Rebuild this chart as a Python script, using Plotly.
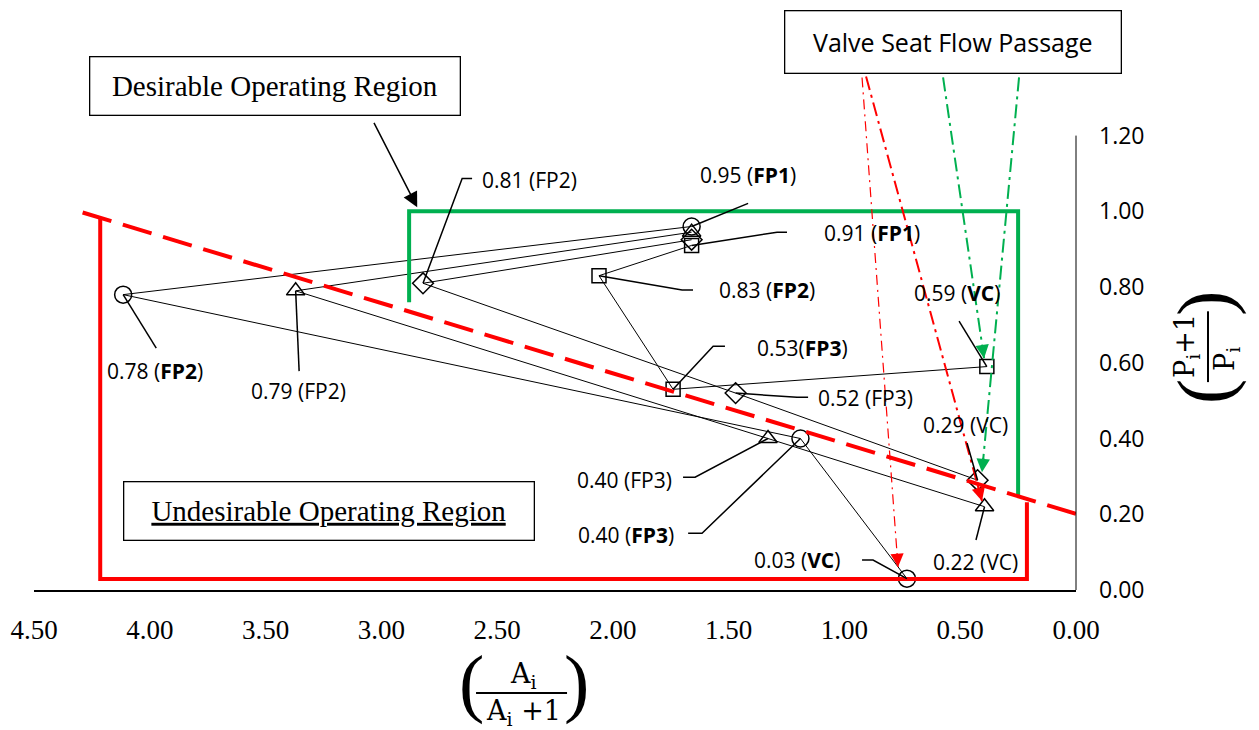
import plotly.graph_objects as go

# ---------------- data ----------------
stages = ["FP1", "FP2", "FP3", "VC"]
circle_x = [1.66, 4.115, 1.19, 0.73]
circle_y = [0.96, 0.78, 0.40, 0.03]
triangle_x = [1.66, 3.37, 1.33, 0.395]
triangle_y = [0.945, 0.79, 0.40, 0.22]
diamond_x = [1.66, 2.82, 1.47, 0.425]
diamond_y = [0.925, 0.81, 0.52, 0.29]
square_x = [1.66, 2.06, 1.74, 0.385]
square_y = [0.91, 0.83, 0.53, 0.59]

x_tick_vals = [4.5, 4.0, 3.5, 3.0, 2.5, 2.0, 1.5, 1.0, 0.5, 0.0]
y_tick_vals = [0.0, 0.2, 0.4, 0.6, 0.8, 1.0, 1.2]

# region boundaries
threshold_x = [4.29, -0.017]
threshold_y = [0.997, 0.198]
red_region_x = [4.214, 4.214, 0.212, 0.212]
red_region_y = [0.98, 0.029, 0.029, 0.232]
green_region_x = [2.88, 2.88, 0.25, 0.25]
green_region_y = [0.76, 1.0, 1.0, 0.25]

# ---------------- figure ----------------
FONT_SANS = "Open Sans"
FONT_SERIF = "Liberation Serif"
FONT_MATH = "DejaVu Serif"
RED = "#FF0000"
GREEN = "#00B050"

series = [
    ("circle", circle_x, circle_y, "circle-open", 17),
    ("triangle", triangle_x, triangle_y, "triangle-up-open", 16),
    ("diamond", diamond_x, diamond_y, "diamond-open", 16),
    ("square", square_x, square_y, "square-open", 14),
]
lookup = {s[0]: (s[1], s[2]) for s in series}

fig = go.Figure()
for name, xs, ys, sym, size in series:
    fig.add_trace(go.Scatter(
        x=xs, y=ys, mode="lines+markers", name=name,
        line=dict(color="black", width=1),
        marker=dict(symbol=sym, size=size, color="black",
                    line=dict(width=1.5, color="black")),
        cliponaxis=False, hoverinfo="skip", showlegend=False))

# region boundaries
fig.add_trace(go.Scatter(x=red_region_x, y=red_region_y, mode="lines",
                         line=dict(color=RED, width=4), hoverinfo="skip", showlegend=False))
fig.add_trace(go.Scatter(x=green_region_x, y=green_region_y, mode="lines",
                         line=dict(color=GREEN, width=4), hoverinfo="skip", showlegend=False))
fig.add_trace(go.Scatter(x=threshold_x, y=threshold_y, mode="lines",
                         line=dict(color=RED, width=4, dash="30px,12px"),
                         hoverinfo="skip", showlegend=False))

# valve seat flow passage arrows: (start, tip, color, width, dash, tail fraction, arrowsize)
valve_arrows = [
    ((0.924, 1.3536), (0.7686, 0.0607), RED, 1.2, "10px,5px,2px,5px", 0.03, 2.2),
    ((0.9067, 1.356), (0.406, 0.235), RED, 2, "14px,5px,3px,5px", 0.035, 1.35),
    ((0.574, 1.3536), (0.397, 0.612), GREEN, 2, "14px,5px,3px,5px", 0.05, 1.35),
    ((0.246, 1.3536), (0.406, 0.311), GREEN, 2, "14px,5px,3px,5px", 0.04, 1.35),
]
annotations = []
for (sx, sy), (tx, ty), col, w, dash, frac, asz in valve_arrows:
    fig.add_trace(go.Scatter(x=[sx, tx], y=[sy, ty], mode="lines",
                             line=dict(color=col, width=w, dash=dash),
                             hoverinfo="skip", showlegend=False))
    annotations.append(dict(
        x=tx, y=ty, xref="x", yref="y", text="",
        ax=tx + frac * (sx - tx), ay=ty + frac * (sy - ty), axref="x", ayref="y",
        showarrow=True, arrowhead=2, arrowsize=asz, arrowwidth=w, arrowcolor=col,
        standoff=0))

# data labels: (series, index, text, text position, leader waypoints)
labels = [
    ("circle", 1, "0.78 (<b>FP2</b>)", (3.977, 0.578), [(3.972, 0.6385)]),
    ("triangle", 1, "0.79 (FP2)", (3.359, 0.525), [(3.355, 0.578)]),
    ("diamond", 1, "0.81 (FP2)", (2.358, 1.082), [(2.651, 1.087), (2.608, 1.087)]),
    ("circle", 0, "0.95 (<b>FP1</b>)", (1.416, 1.095), [(1.416, 1.021)]),
    ("square", 0, "0.91 (<b>FP1</b>)", (0.881, 0.942), [(1.291, 0.945), (1.248, 0.945)]),
    ("square", 1, "0.83 (<b>FP2</b>)", (1.334, 0.792), [(1.701, 0.792), (1.654, 0.792)]),
    ("square", 2, "0.53(<b>FP3</b>)", (1.183, 0.6385), [(1.567, 0.644), (1.516, 0.644)]),
    ("diamond", 2, "0.52 (FP3)", (0.911, 0.507), [(1.205, 0.509), (1.157, 0.509)]),
    ("triangle", 2, "0.40 (FP3)", (1.952, 0.290), [(1.645, 0.298), (1.697, 0.298)]),
    ("circle", 2, "0.40 (<b>FP3</b>)", (1.943, 0.145), [(1.615, 0.150), (1.675, 0.150)]),
    ("circle", 3, "0.03 (<b>VC</b>)", (1.205, 0.079), [(0.8765, 0.079), (0.924, 0.079)]),
    ("triangle", 3, "0.22 (VC)", (0.436, 0.074), [(0.432, 0.132)]),
    ("diamond", 3, "0.29 (VC)", (0.479, 0.435), [(0.4706, 0.388)]),
    ("square", 3, "0.59 (<b>VC</b>)", (0.514, 0.784), [(0.505, 0.710)]),
]
for sname, idx, text, (lx, ly), pts in labels:
    xs, ys = lookup[sname]
    fig.add_trace(go.Scatter(x=[xs[idx]] + [p[0] for p in pts],
                             y=[ys[idx]] + [p[1] for p in pts], mode="lines",
                             line=dict(color="black", width=1.5),
                             hoverinfo="skip", showlegend=False))
    annotations.append(dict(x=lx, y=ly, xref="x", yref="y", text=text, showarrow=False,
                            xanchor="center", yanchor="middle",
                            font=dict(family=FONT_SANS, size=21, color="black")))

# text boxes
annotations.append(dict(x=3.459, y=1.330, xref="x", yref="y", text="Desirable Operating Region",
                        showarrow=False, width=369, height=57, bordercolor="black", borderwidth=1.3,
                        borderpad=0, bgcolor="white", xanchor="center", yanchor="middle",
                        font=dict(family=FONT_SERIF, size=29, color="black")))
annotations.append(dict(x=2.845, y=1.0106, xref="x", yref="y", text="",
                        ax=3.035, ay=1.2375, axref="x", ayref="y", showarrow=True,
                        arrowhead=2, arrowsize=2, arrowwidth=1.5, arrowcolor="black", standoff=0))
annotations.append(dict(x=3.225, y=0.2084, xref="x", yref="y",
                        text="<u>Undesirable Operating Region</u>",
                        showarrow=False, width=409, height=57, bordercolor="black", borderwidth=1.3,
                        borderpad=0, bgcolor="white", xanchor="center", yanchor="middle",
                        font=dict(family=FONT_SERIF, size=29, color="black")))
annotations.append(dict(x=0.531, y=1.446, xref="x", yref="y", text="Valve Seat Flow Passage",
                        showarrow=False, width=335, height=61, bordercolor="black", borderwidth=1.3,
                        borderpad=0, bgcolor="white", xanchor="center", yanchor="middle",
                        font=dict(family=FONT_SANS, size=25, color="black")))

# axis titles built from pieces (fractions), placed in paper coordinates
title_font = dict(family=FONT_MATH, size=27, color="black")
paren_font = dict(family=FONT_SERIF, size=76, color="black")
C = dict(showarrow=False, xref="paper", yref="paper", xanchor="center", yanchor="middle")
# x title
annotations += [
    dict(x=0.4194, y=-0.1637, text="(", font=paren_font, **C),
    dict(x=0.5211, y=-0.1637, text=")", font=paren_font, **C),
    dict(x=0.4693, y=-0.1514, text="A<sub>i</sub>", font=title_font, **C),
    dict(x=0.4693, y=-0.2148, text="A<sub>i</sub> +1", font=title_font, **C),
]
# y title (rotated)
annotations += [
    dict(x=1.1238, y=0.3504, text="(", textangle=-90, font=paren_font, **C),
    dict(x=1.1238, y=0.5053, text=")", textangle=-90, font=paren_font, **C),
    dict(x=1.1065, y=0.4296, text="P<sub>i</sub>+1", textangle=-90, font=title_font, **C),
    dict(x=1.1449, y=0.4067, text="P<sub>i</sub>", textangle=-90, font=title_font, **C),
]

shapes = [
    # right-hand y axis line from 0 to 1.2
    dict(type="line", xref="paper", yref="y", x0=1, x1=1, y0=0, y1=1.2,
         line=dict(color="black", width=1)),
    # x title fraction bar
    dict(type="line", xref="x", yref="paper", x0=2.591, x1=2.198, y0=-0.1813, y1=-0.1813,
         line=dict(color="black", width=2)),
    # y title fraction bar
    dict(type="line", xref="paper", yref="y", x0=1.1267, x1=1.1267, y0=0.549, y1=0.736,
         line=dict(color="black", width=2)),
]

# the page body adds an 8px offset; margins compensate so the plot area lands where intended
fig.update_layout(
    width=1259, height=730,
    margin=dict(l=26, r=191, t=14, b=148, autoexpand=False),
    paper_bgcolor="white", plot_bgcolor="white",
    showlegend=False,
    annotations=annotations,
    shapes=shapes,
    xaxis=dict(range=[4.5, 0], tickvals=x_tick_vals, tickformat=".2f", automargin=False,
               showgrid=False, zeroline=False, showline=True, linecolor="black", linewidth=1.5,
               ticks="", ticklabelstandoff=15,
               tickfont=dict(family=FONT_SERIF, size=27, color="black")),
    yaxis=dict(range=[0, 1.5], tickvals=y_tick_vals, tickformat=".2f", side="right",
               automargin=False, showgrid=False, zeroline=False, showline=False,
               ticks="", ticklabelstandoff=22,
               tickfont=dict(family=FONT_SANS, size=23, color="black")),
)

fig.write_html("out.html")
